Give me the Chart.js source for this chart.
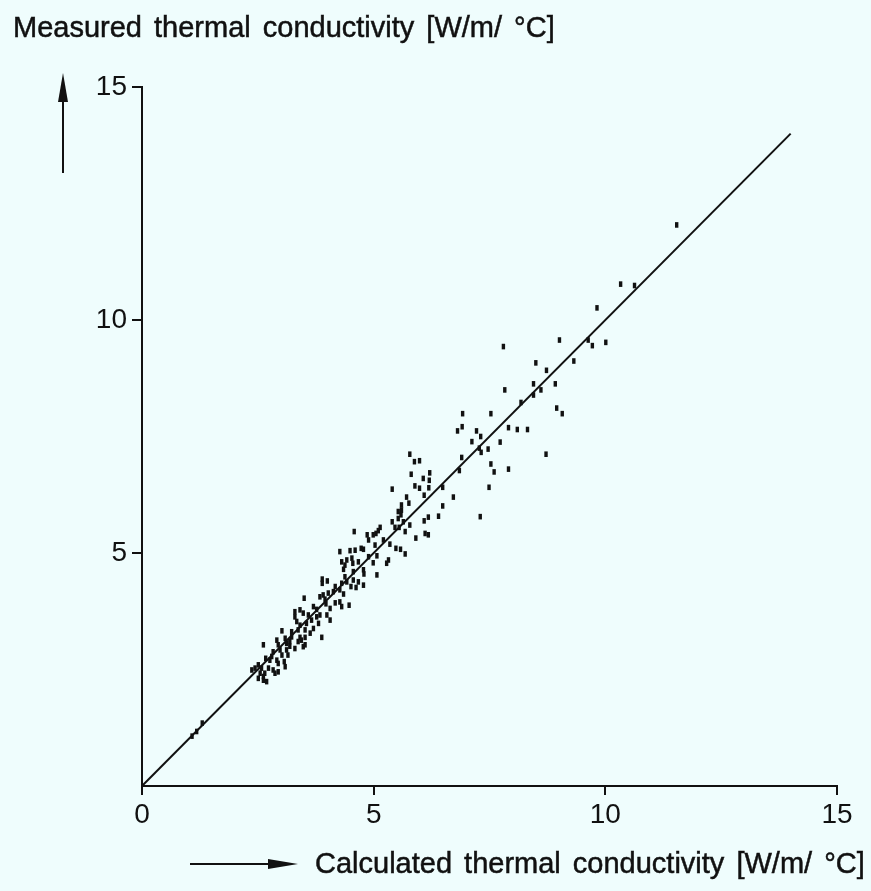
<!DOCTYPE html>
<html><head><meta charset="utf-8">
<script src="https://cdn.jsdelivr.net/npm/chart.js@4/dist/chart.umd.min.js"></script>
<style>
html,body{margin:0;padding:0;background:#effdfd;}
#wrap{position:relative;width:871px;height:891px;}
canvas{display:block;}
</style></head><body>
<div id="wrap"><canvas id="c" width="871" height="891"></canvas></div>
<script>
// Calculated (x) and measured (y) thermal conductivity, W/m/°C
const calculated = [
  11.54,10.33,10.63,9.82,
  9.01,9.63,9.72,10.01,7.80,9.32,8.50,8.73,8.45,8.61,8.92,8.45,7.83,8.18,8.95,9.07,
  6.92,7.53,6.91,6.81,7.22,7.31,7.12,7.91,8.10,8.32,7.73,7.28,7.47,7.32,6.90,8.72,
  7.53,6.85,7.60,7.91,7.49,6.49,6.72,6.49,7.30,
  5.78,5.88,5.99,5.81,6.07,6.21,6.19,6.20,5.89,5.99,5.40,6.09,5.71,5.60,5.60,5.59,5.53,5.53,5.76,6.40,6.18,6.09,5.40,5.78,5.46,5.55,
  5.64,5.68,5.91,6.11,6.18,4.58,5.14,5.05,5.10,4.86,4.89,4.99,5.21,5.03,5.35,5.48,5.58,5.68,4.49,4.60,
  4.73,4.78,4.27,4.53,4.55,4.42,4.31,4.67,4.89,5.07,4.99,5.32,5.28,4.35,4.38,4.56,4.78,4.79,5.07,4.38,
  3.89,3.89,4.00,4.31,4.56,4.51,4.67,4.78,4.42,4.13,4.27,3.91,3.84,4.02,4.35,3.50,3.95,3.97,4.17,4.27,
  4.31,4.47,3.70,3.77,4.06,3.30,3.30,3.41,3.48,3.59,3.77,3.84,3.99,4.06,3.34,3.41,3.55,3.66,3.81,3.23,
  3.37,3.52,3.63,3.70,3.88,3.41,3.52,4.62,4.17,
  3.02,2.62,2.91,2.94,3.09,3.12,3.23,3.19,3.37,3.44,3.52,3.19,2.83,2.80,2.98,3.02,3.12,3.15,3.30,3.48,
  2.67,2.76,2.91,2.94,3.07,3.09,2.51,2.58,2.44,2.37,2.73,2.83,2.94,2.55,2.65,2.87,2.51,2.62,2.69,2.62,
  1.30,1.18,1.08
];
const measured = [
  12.04,10.77,10.74,10.26,
  9.57,9.57,9.45,9.52,9.43,9.12,9.08,8.92,8.63,8.50,8.63,8.39,8.50,8.23,8.11,7.99,
  7.99,7.99,7.71,7.62,7.62,7.50,7.39,7.69,7.65,7.65,7.38,7.25,7.23,7.16,7.05,7.12,
  6.91,6.77,6.74,6.80,6.41,6.41,6.20,6.01,5.78,
  7.12,6.96,6.98,6.69,6.60,6.72,6.40,6.56,6.44,6.39,6.37,6.24,6.20,6.03,5.92,5.82,5.89,5.74,6.07,5.79,5.77,5.69,5.67,5.60,5.55,5.55,
  5.67,5.46,5.32,5.42,5.39,5.46,5.55,5.42,5.48,5.39,5.28,5.39,5.28,5.17,5.19,5.10,5.08,4.98,5.05,5.06,
  5.10,5.08,5.03,4.89,4.78,4.85,4.81,4.81,4.92,4.94,4.79,4.85,4.78,4.65,4.74,4.60,4.64,4.55,4.53,4.49,
  4.44,4.35,4.40,4.35,4.42,4.28,4.38,4.31,4.38,4.17,4.21,4.10,4.06,4.14,4.12,4.03,4.01,3.91,3.93,3.95,
  3.85,3.88,3.85,3.79,3.81,3.74,3.63,3.78,3.71,3.67,3.63,3.67,3.67,3.56,3.53,3.45,3.49,3.56,3.49,3.31,
  3.35,3.35,3.28,3.38,3.19,3.19,3.19,4.26,4.28,
  3.33,3.03,3.13,3.03,3.17,3.06,3.20,3.10,3.10,3.13,3.03,3.00,2.88,2.78,2.92,2.81,2.92,2.81,2.95,2.99,
  2.74,2.70,2.70,2.63,2.67,2.56,2.60,2.53,2.53,2.49,2.53,2.49,2.45,2.42,2.42,2.42,2.31,2.35,2.24,2.27,
  1.35,1.17,1.07
];
// Reference line (equality) end points
const lineX = [0, 14];
const lineY = [0, 14];
// Axis ticks
const xTicks = [0, 5, 10, 15];
const yTicks = [0, 5, 10, 15];
const yTitle = 'Measured thermal conductivity [W/m/ °C]';
const xTitle = 'Calculated thermal conductivity [W/m/ °C]';

const INK = '#111';
const FONT = '"Liberation Sans", Arial, Helvetica, sans-serif';

const pts = calculated.map((x, i) => ({ x: x, y: measured[i] }));
const linePts = lineX.map((x, i) => ({ x: x, y: lineY[i] }));

const annot = {
  id: 'annot',
  afterDraw(chart) {
    const c = chart.ctx;
    c.save();
    c.fillStyle = INK; c.strokeStyle = INK;
    c.font = '29px ' + FONT;
    c.textBaseline = 'alphabetic'; c.textAlign = 'left';
    if ('wordSpacing' in c) c.wordSpacing = '4px';
    c.lineWidth = 0.5;
    c.fillText(yTitle, 13, 37);
    c.strokeText(yTitle, 13, 37);
    c.fillText(xTitle, 315, 873);
    c.strokeText(xTitle, 315, 873);
    c.lineWidth = 2;
    // vertical arrow
    c.beginPath(); c.moveTo(63, 173); c.lineTo(63, 98); c.stroke();
    c.beginPath(); c.moveTo(63, 73); c.lineTo(58, 102); c.lineTo(68, 102); c.closePath(); c.fill();
    // horizontal arrow
    c.beginPath(); c.moveTo(190, 864); c.lineTo(272, 864); c.stroke();
    c.beginPath(); c.moveTo(298, 864); c.lineTo(268, 859); c.lineTo(268, 869); c.closePath(); c.fill();
    c.restore();
  }
};

Chart.defaults.font.family = FONT;
Chart.defaults.color = INK;

new Chart(document.getElementById('c'), {
  type: 'scatter',
  data: {
    datasets: [
      {
        label: 'measurements',
        data: pts,
        pointStyle: 'line',
        rotation: 90,
        pointRadius: 2.8,
        pointBorderWidth: 3.4,
        borderColor: INK,
        backgroundColor: INK
      },
      {
        label: 'equality',
        data: linePts,
        showLine: true,
        pointRadius: 0,
        borderColor: INK,
        borderWidth: 2
      }
    ]
  },
  options: {
    responsive: false,
    devicePixelRatio: 1,
    animation: false,
    layout: { padding: { top: 87, right: 34, left: 0, bottom: 0 } },
    plugins: { legend: { display: false }, tooltip: { enabled: false }, title: { display: false } },
    scales: {
      x: {
        type: 'linear', min: 0, max: 15,
        afterBuildTicks: s => { s.ticks = xTicks.map(v => ({ value: v })); },
        afterFit: s => { s.height = 105; },
        grid: { drawOnChartArea: false, drawTicks: true, tickLength: 9, tickColor: INK, lineWidth: 2 },
        border: { display: true, color: INK, width: 2 },
        ticks: { padding: 3, color: INK, font: { size: 28 }, maxRotation: 0 }
      },
      y: {
        type: 'linear', min: 0, max: 15,
        afterBuildTicks: s => { s.ticks = yTicks.map(v => ({ value: v })); },
        afterFit: s => { s.width = 142; },
        grid: { drawOnChartArea: false, drawTicks: true, tickLength: 10,
                tickColor: ctx => (ctx.tick && ctx.tick.value === 0) ? 'rgba(0,0,0,0)' : INK, lineWidth: 2 },
        border: { display: true, color: INK, width: 2 },
        ticks: { padding: 5, color: INK, font: { size: 28 },
                 callback: v => v === 0 ? '' : String(v) }
      }
    }
  },
  plugins: [annot]
});
</script>
</body></html>
